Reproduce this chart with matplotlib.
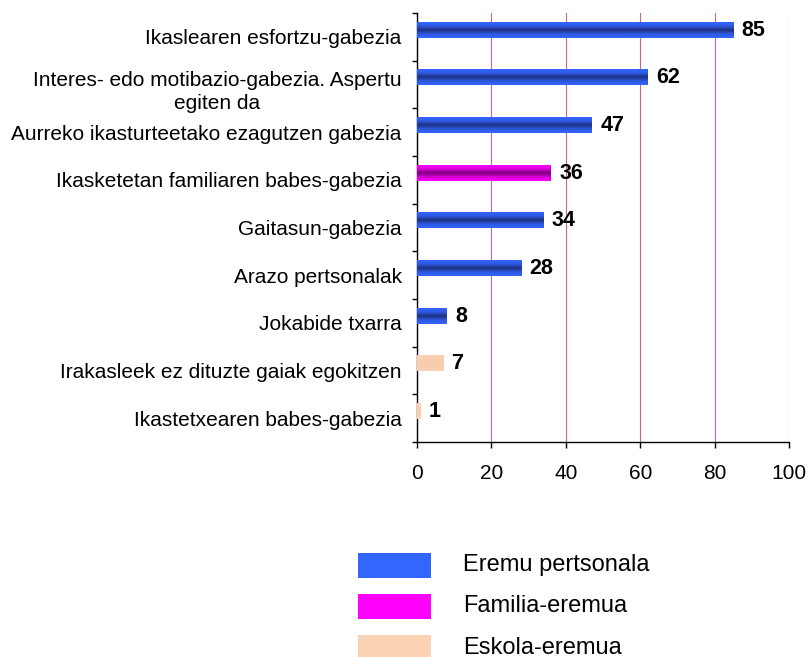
import numpy as np
import matplotlib
matplotlib.use("Agg")
import matplotlib.pyplot as plt
from matplotlib.colors import LinearSegmentedColormap
from matplotlib.patches import Rectangle
from matplotlib.transforms import ScaledTranslation

plt.rcParams["font.family"] = ["Liberation Sans", "DejaVu Sans"]

# ── Data ─────────────────────────────────────────────────────────────────────
categories = [
    "Ikaslearen esfortzu-gabezia",
    "Interes- edo motibazio-gabezia. Aspertu\negiten da",
    "Aurreko ikasturteetako ezagutzen gabezia",
    "Ikasketetan familiaren babes-gabezia",
    "Gaitasun-gabezia",
    "Arazo pertsonalak",
    "Jokabide txarra",
    "Irakasleek ez dituzte gaiak egokitzen",
    "Ikastetxearen babes-gabezia",
]
values = [85, 62, 47, 36, 34, 28, 8, 7, 1]
groups = ["pers", "pers", "pers", "fam", "pers", "pers", "pers", "esk", "esk"]

group_labels = {"pers": "Eremu pertsonala", "fam": "Familia-eremua", "esk": "Eskola-eremua"}
group_colors = {"pers": "#3366ff", "fam": "#ff00ff", "esk": "#fad2b4"}

# vertical shading inside each bar: bright edges, dark core
group_cmaps = {
    "pers": LinearSegmentedColormap.from_list(
        "pers", ["#3366ff", "#2d58e0", "#1d3080", "#2d58e0", "#3366ff"]),
    "fam": LinearSegmentedColormap.from_list(
        "fam", ["#ff00ff", "#d800d8", "#7a007a", "#d800d8", "#ff00ff"]),
    "esk": LinearSegmentedColormap.from_list(
        "esk", ["#fad2b4", "#f9cfb0", "#f7cbab", "#f9cfb0", "#fad2b4"]),
}

fig = plt.figure(figsize=(8.08, 6.57), dpi=100)
ax = fig.add_axes([417 / 808, 1 - 442 / 657, 372 / 808, 429 / 657])

y = np.arange(len(categories))
bar_y = y - 0.14  # bars sit a little above the middle of each row
bars = ax.barh(bar_y, values, height=0.32, color=[group_colors[g] for g in groups],
               zorder=2)

grad = np.linspace(0, 1, 64).reshape(-1, 1)
for b, g in zip(bars, groups):
    x0, y0 = b.get_x(), b.get_y()
    ax.imshow(grad, extent=[x0, x0 + b.get_width(), y0 + b.get_height(), y0],
              cmap=group_cmaps[g], aspect="auto", zorder=3, interpolation="bilinear")

for v, yy in zip(values, bar_y):
    ax.annotate(str(v), (v, yy), xytext=(6, 0), textcoords="offset points",
                ha="left", va="center", fontsize=15.5, fontweight="bold", color="black")

# ── Axes ─────────────────────────────────────────────────────────────────────
ax.set_xlim(0, 100)
ax.set_ylim(len(categories) - 0.5, -0.5)
ax.set_xticks(np.arange(0, 101, 20))
ax.tick_params(axis="x", direction="out", length=4, width=1, pad=12, labelsize=15)

ax.set_yticks(np.arange(-0.5, len(categories), 1))
ax.set_yticklabels([])
ax.tick_params(axis="y", which="major", direction="out", length=3.5, width=1)
ax.set_yticks(y, minor=True)
ax.set_yticklabels(categories, minor=True, fontsize=15, multialignment="center",
                   linespacing=1.25)
ax.tick_params(axis="y", which="minor", length=0, pad=11)

# nudge the two-line label down a touch
two_line = ax.get_yticklabels(minor=True)[1]
two_line.set_transform(two_line.get_transform()
                       + ScaledTranslation(0, -4 / 100, fig.dpi_scale_trans))

ax.xaxis.grid(True, color="#c8649a", linewidth=0.8, zorder=0)
ax.set_axisbelow(True)
for s in ("top", "right"):
    ax.spines[s].set_visible(False)
for s in ("left", "bottom"):
    ax.spines[s].set_linewidth(1)

# ── Legend ───────────────────────────────────────────────────────────────────
for i, g in enumerate(["pers", "fam", "esk"]):
    top = 553 + i * 41
    fig.add_artist(Rectangle((358 / 808, 1 - (top + 25) / 657), 73 / 808, 25 / 657,
                             transform=fig.transFigure, facecolor=group_colors[g],
                             edgecolor="none"))
    fig.text(463 / 808, 1 - (top + 12.5) / 657, group_labels[g], ha="left",
             va="center", fontsize=17, color="black")

fig.savefig("out.png", dpi=100, facecolor="white")
